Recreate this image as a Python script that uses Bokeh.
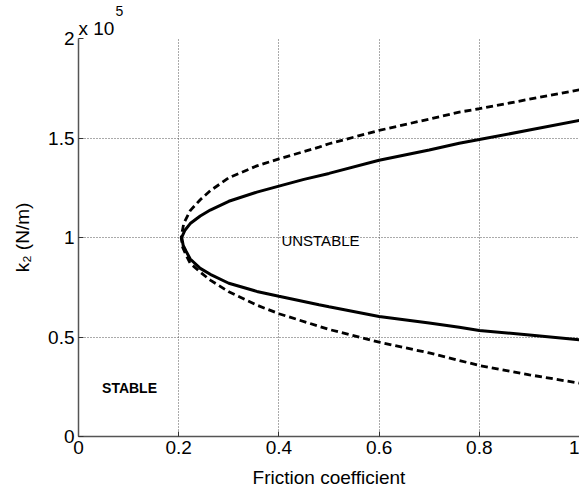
from bokeh.plotting import figure
from bokeh.models import FixedTicker, CustomJSTickFormatter, Label, Range1d, Title
from bokeh.embed import file_html
from bokeh.resources import INLINE

# Friction coefficient vs k2 (in units of 1e5 N/m)
solid_mu = [1.0, 0.9, 0.8, 0.76, 0.7, 0.6, 0.5, 0.45, 0.4, 0.356, 0.3, 0.263, 0.243, 0.223, 0.212, 0.206,
            0.209, 0.215, 0.223, 0.243, 0.263, 0.3, 0.356, 0.4, 0.48, 0.5, 0.6, 0.7, 0.76, 0.8, 0.9, 1.0]
solid_k2 = [1.588, 1.54, 1.492, 1.474, 1.44, 1.388, 1.322, 1.292, 1.258, 1.228, 1.182, 1.138, 1.108, 1.07, 1.035, 1.0,
            0.96, 0.93, 0.892, 0.845, 0.815, 0.77, 0.729, 0.705, 0.662, 0.652, 0.603, 0.57, 0.549, 0.533, 0.51, 0.486]

dash_mu = [1.0, 0.9, 0.8, 0.76, 0.7, 0.6, 0.5, 0.48, 0.4, 0.356, 0.3, 0.263, 0.243, 0.223, 0.21, 0.205,
           0.208, 0.215, 0.223, 0.243, 0.263, 0.3, 0.356, 0.4, 0.5, 0.6, 0.7, 0.76, 0.8, 0.9, 1.0]
dash_k2 = [1.742, 1.695, 1.647, 1.63, 1.595, 1.538, 1.471, 1.454, 1.395, 1.36, 1.3, 1.235, 1.19, 1.135, 1.07, 1.0,
           0.95, 0.91, 0.87, 0.826, 0.786, 0.727, 0.66, 0.617, 0.538, 0.474, 0.42, 0.382, 0.357, 0.31, 0.268]

x_ticks = [0, 0.2, 0.4, 0.6, 0.8, 1.0]
y_ticks = [0, 0.5, 1.0, 1.5, 2.0]

FONT = "Liberation Sans"

p = figure(width=579, height=490, output_backend="svg", toolbar_location=None,
           x_range=Range1d(0, 1.0), y_range=Range1d(0, 2.0),
           min_border_left=78, min_border_right=0, min_border_top=38, min_border_bottom=54)
p.outline_line_color = None
p.background_fill_color = "white"

fmt = CustomJSTickFormatter(code="return String(Math.round(tick*10)/10);")

for ax, ticks in ((p.xaxis[0], x_ticks), (p.yaxis[0], y_ticks)):
    ax.ticker = FixedTicker(ticks=ticks)
    ax.formatter = fmt
    ax.major_tick_in = 5
    ax.major_tick_out = 0
    ax.minor_tick_line_color = None
    ax.axis_line_color = "#555555"
    ax.axis_line_width = 1.5
    ax.major_tick_line_color = "#333333"
    ax.major_label_text_font = FONT
    ax.major_label_text_font_size = "19px"
    ax.major_label_text_color = "black"
    ax.axis_label_text_font = FONT
    ax.axis_label_text_font_size = "19px"
    ax.axis_label_text_font_style = "normal"
    ax.axis_label_text_color = "black"

p.xaxis.axis_label = "Friction coefficient"
p.xaxis.major_label_standoff = 4
p.xaxis.axis_label_standoff = 10
p.yaxis.axis_label = "k\u2082 (N/m)"
p.yaxis.major_label_standoff = 4
p.yaxis.axis_label_standoff = 12

for g in (p.xgrid[0], p.ygrid[0]):
    g.grid_line_color = "#555555"
    g.grid_line_dash = "1 2"
    g.grid_line_width = 1
p.xgrid.ticker = FixedTicker(ticks=x_ticks)
p.ygrid.ticker = FixedTicker(ticks=y_ticks)

p.add_layout(Title(text="x 10", align="left", offset=0, standoff=0, text_font=FONT,
                   text_font_size="19px", text_font_style="normal", text_color="black"), "above")
p.add_layout(Title(text="5", align="left", offset=37, standoff=0, text_font=FONT,
                   text_font_size="14px", text_font_style="normal", text_color="black"), "above")

p.line(solid_mu, solid_k2, line_color="black", line_width=3)
p.line(dash_mu, dash_k2, line_color="black", line_width=2.8, line_dash="7 4")

p.add_layout(Label(x=0.405, y=0.985, text="UNSTABLE", text_font=FONT, text_font_size="15px",
                   text_baseline="middle", text_align="left", text_color="black"))
p.add_layout(Label(x=0.047, y=0.244, text="STABLE", text_font=FONT, text_font_size="14px",
                   text_font_style="bold", text_baseline="middle", text_align="left", text_color="black"))

open("out.html", "w").write(file_html(p, INLINE))
